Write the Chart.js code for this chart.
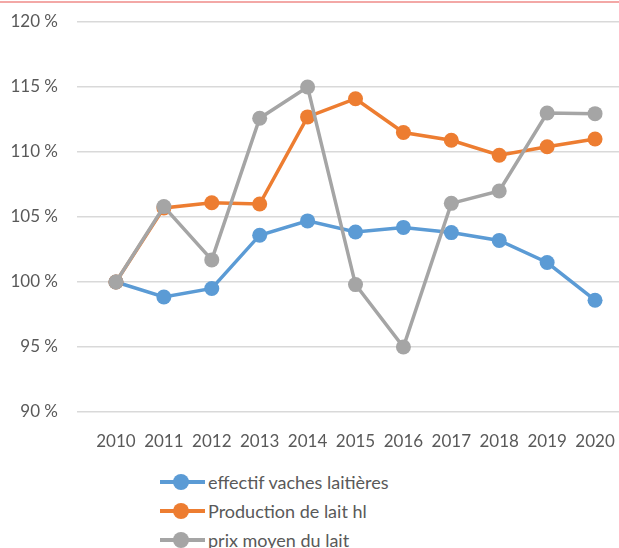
<!DOCTYPE html>
<html>
<head>
<meta charset="utf-8">
<script src="https://cdn.jsdelivr.net/npm/chart.js@4/dist/chart.umd.min.js"></script>
<style>
  body { margin: 0; background: #fff; }
  #wrap { position: relative; width: 619px; height: 548px; overflow: hidden; font-family: Lato, "Open Sans", sans-serif; }
  #topline { position: absolute; left: 0; top: 1px; width: 619px; height: 2px; background: #f3a8a6; }
  #box { position: absolute; left: 0; top: 0; width: 619px; height: 460px; }
  #legend { position: absolute; left: 160px; top: 467px; color: #595959; font-size: 18px; }
  .item { display: flex; align-items: center; height: 29px; }
  .mark { position: relative; width: 45px; height: 16px; margin-right: 3px; }
  .mark .ln { position: absolute; left: 0; top: 6px; width: 45px; height: 4px; }
  .mark .dot { position: absolute; left: 13px; top: 0; width: 16px; height: 16px; border-radius: 50%; }
</style>
</head>
<body>
<div id="wrap">
  <div id="topline"></div>
  <div id="box"><canvas id="chart"></canvas></div>
  <div id="legend"></div>
</div>
<script>
const years = ["2010", "2011", "2012", "2013", "2014", "2015", "2016", "2017", "2018", "2019", "2020"];
const vaches = [100, 98.85, 99.5, 103.6, 104.7, 103.85, 104.2, 103.8, 103.2, 101.5, 98.6];
const production = [100, 105.7, 106.1, 106.0, 112.7, 114.1, 111.5, 110.9, 109.75, 110.4, 111.0];
const prix = [100, 105.8, 101.7, 112.6, 115.0, 99.8, 95.0, 106.05, 107.0, 113.0, 112.95];

const seriesNames = ["effectif vaches laitières", "Production de lait hl", "prix moyen du lait"];
const seriesColors = ["#5b9bd5", "#ed7d31", "#a5a5a5"];

const textColor = "#595959";
const font = { family: "Lato, 'Open Sans', sans-serif", size: 17 };

// order: later series drawn on top, like the original
function makeSet(label, data, color, order) {
  return {
    label: label,
    data: data,
    order: order,
    borderColor: color,
    backgroundColor: color,
    borderWidth: 3.5,
    pointRadius: 7.5,
    pointHoverRadius: 7.5,
    pointBorderWidth: 0,
    tension: 0
  };
}

const ctx = document.getElementById("chart").getContext("2d");
const chart = new Chart(ctx, {
  type: "line",
  data: {
    labels: years,
    datasets: [
      makeSet(seriesNames[0], vaches, seriesColors[0], 3),
      makeSet(seriesNames[1], production, seriesColors[1], 2),
      makeSet(seriesNames[2], prix, seriesColors[2], 1)
    ]
  },
  options: {
    responsive: true,
    maintainAspectRatio: false,
    animation: false,
    layout: { autoPadding: false, padding: { top: 22, right: 0, left: 0, bottom: 0 } },
    plugins: {
      legend: { display: false },
      tooltip: { enabled: false }
    },
    scales: {
      x: {
        offset: true,
        grid: { display: false, drawTicks: false },
        border: { display: false },
        ticks: { color: textColor, font: font, padding: 19, maxRotation: 0, autoSkip: false },
        afterFit: (scale) => {
          scale.height = 48;
          scale.paddingLeft = 0;
          scale.paddingRight = 0;
        }
      },
      y: {
        min: 90,
        max: 120,
        grid: { color: "#d9d9d9", lineWidth: 1.5, drawTicks: true, tickLength: 15 },
        border: { display: false },
        ticks: {
          stepSize: 5,
          color: textColor,
          font: font,
          padding: 19,
          callback: (v) => v + " %"
        },
        afterFit: (scale) => {
          scale.width = 92;
          scale.paddingTop = 0;
          scale.paddingBottom = 0;
        }
      }
    }
  }
});

// legend drawn vertically under the chart, from the datasets
const legendEl = document.getElementById("legend");
chart.data.datasets.forEach((ds) => {
  const item = document.createElement("div");
  item.className = "item";
  item.innerHTML = '<span class="mark"><span class="ln" style="background:' + ds.borderColor +
    '"></span><span class="dot" style="background:' + ds.borderColor + '"></span></span>' +
    '<span>' + ds.label + '</span>';
  legendEl.appendChild(item);
});
</script>
</body>
</html>
